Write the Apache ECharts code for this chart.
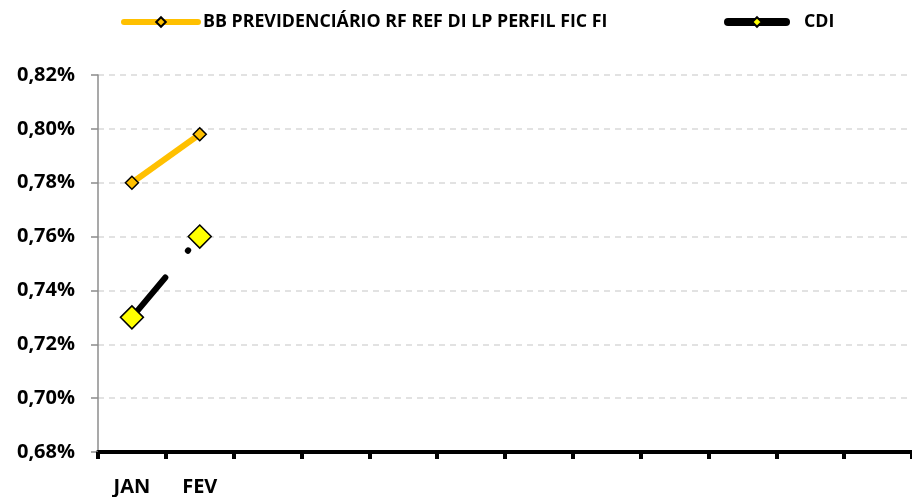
<!DOCTYPE html>
<html><head><meta charset="utf-8">
<script src="https://cdn.jsdelivr.net/npm/echarts@6/dist/echarts.min.js"></script>
<style>html,body{margin:0;padding:0;background:#fff}#c{width:912px;height:497px}</style>
</head><body><div id="c"></div>
<script>
const categories = ['JAN','FEV','','','','','','','','','',''];
const fundName = 'BB PREVIDENCIÁRIO RF REF DI LP PERFIL FIC FI';
const fundValues = [0.780, 0.798];
const cdiValues = [0.730, 0.760];
const yMin = 0.68, yMax = 0.82, yStep = 0.02;

const FONT = 'Open Sans';
const chart = echarts.init(document.getElementById('c'), null, {renderer:'canvas'});
chart.setOption({
  animation:false,
  backgroundColor:'#fff',
  textStyle:{fontFamily:FONT},
  legend:[{
    left:116, top:8, itemWidth:74, itemHeight:12, itemGap:0,
    data:[fundName],
    textStyle:{fontFamily:FONT, fontWeight:'bold', fontSize:17.8, color:'#000'},
    lineStyle:{width:6, cap:'round'}
  },{
    left:719, top:8, itemWidth:58, itemHeight:12,
    data:['CDI'],
    textStyle:{fontFamily:FONT, fontWeight:'bold', fontSize:17.8, color:'#000', padding:[0,0,0,13]},
    lineStyle:{width:8, type:'solid', cap:'round'}
  }],
  grid:{left:98, top:75, width:818, bottom:44, containLabel:false},
  xAxis:{
    type:'category', data:categories, boundaryGap:true,
    axisLine:{lineStyle:{color:'#000', width:4}},
    axisTick:{show:true, length:7, lineStyle:{color:'#000', width:4}},
    axisLabel:{margin:25, fontFamily:FONT, fontWeight:'bold', fontSize:20, color:'#000', interval:0},
    splitLine:{show:false}
  },
  yAxis:{
    type:'value', min:yMin, max:yMax, interval:yStep,
    axisLine:{show:true, lineStyle:{color:'#8c8c8c', width:1.5}},
    axisTick:{show:true, length:7, lineStyle:{color:'#8c8c8c', width:1.5}},
    axisLabel:{margin:23, fontFamily:FONT, fontWeight:'bold', fontSize:20, color:'#000',
      formatter:v=>v.toFixed(2).replace('.',',')+'%'},
    splitLine:{show:true, lineStyle:{color:'#d9d9d9', width:1.5, type:[6,5]}}
  },
  series:[{
    name:fundName, type:'line', data:fundValues,
    symbol:'diamond', symbolSize:13, showSymbol:true,
    lineStyle:{color:'#FFC000', width:6},
    itemStyle:{color:'#FFC000', borderColor:'#000', borderWidth:1.5},
    z:3
  },{
    name:'CDI', type:'line', data:cdiValues,
    symbol:'diamond', symbolSize:23, showSymbol:true,
    lineStyle:{color:'#000', width:6, type:[52,35,0.5,40], cap:'round'},
    itemStyle:{color:'#FFFF00', borderColor:'#000', borderWidth:1.5},
    z:4
  }]
});
</script></body></html>
